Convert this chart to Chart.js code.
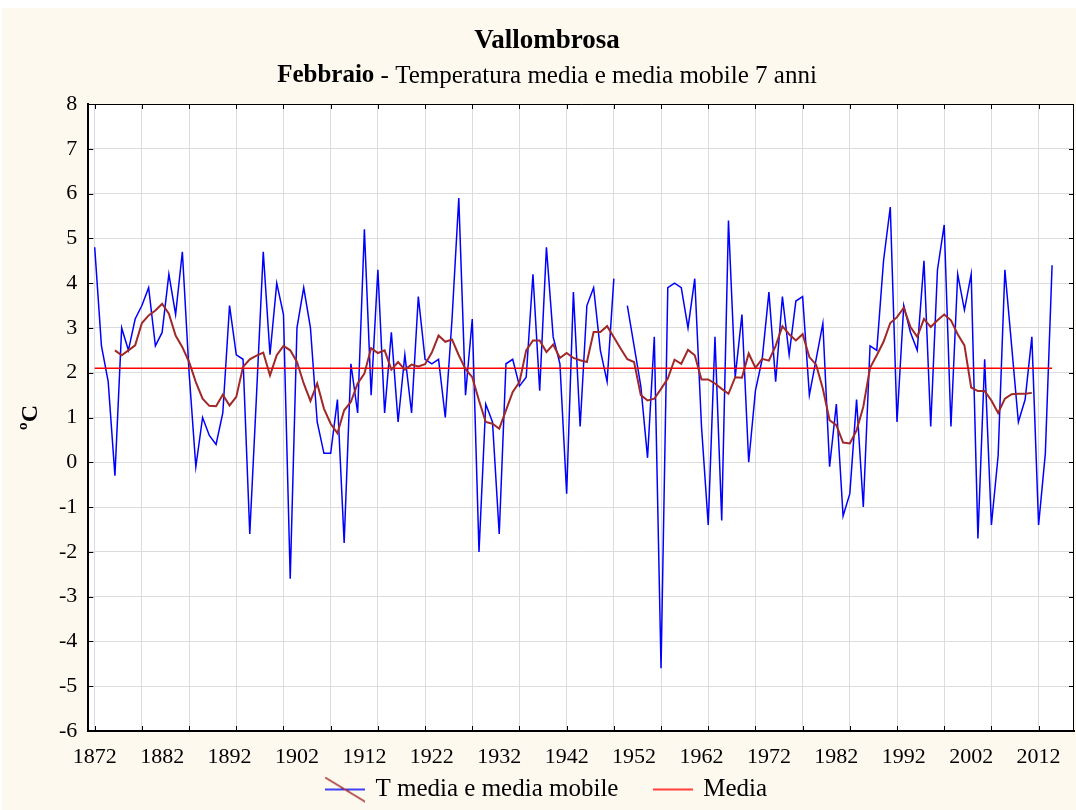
<!DOCTYPE html>
<html><head><meta charset="utf-8">
<script src="https://cdn.jsdelivr.net/npm/chart.js@4.4.1/dist/chart.umd.min.js"></script>
<style>html,body{margin:0;padding:0;background:#fff;}canvas{display:block;}</style>
</head><body>
<canvas id="c" width="1076" height="810"></canvas>
<script>
// ---------- DATA ----------
const years = [
 1872,1873,1874,1875,1876,1877,1878,1879,1880,1881,
 1882,1883,1884,1885,1886,1887,1888,1889,1890,1891,
 1892,1893,1894,1895,1896,1897,1898,1899,1900,1901,
 1902,1903,1904,1905,1906,1907,1908,1909,1910,1911,
 1912,1913,1914,1915,1916,1917,1918,1919,1920,1921,
 1922,1923,1924,1925,1926,1927,1928,1929,1930,1931,
 1932,1933,1934,1935,1936,1937,1938,1939,1940,1941,
 1942,1943,1944,1945,1946,1947,1948,1949,1950,1951,
 1952,1953,1954,1955,1956,1957,1958,1959,1960,1961,
 1962,1963,1964,1965,1966,1967,1968,1969,1970,1971,
 1972,1973,1974,1975,1976,1977,1978,1979,1980,1981,
 1982,1983,1984,1985,1986,1987,1988,1989,1990,1991,
 1992,1993,1994,1995,1996,1997,1998,1999,2000,2001,
 2002,2003,2004,2005,2006,2007,2008,2009,2010,2011,
 2012,2013,2014
];
const temperature = [
 4.8, 2.6, 1.8, -0.3, 3.0, 2.5, 3.2, 3.5, 3.9, 2.6,
 2.9, 4.2, 3.3, 4.7, 2.0, -0.1, 1.0, 0.6, 0.4, 1.1,
 3.5, 2.4, 2.3, -1.6, 1.5, 4.7, 2.4, 4.0, 3.3, -2.6,
 3.0, 3.9, 3.0, 0.9, 0.2, 0.2, 1.4, -1.8, 2.2, 1.1,
 5.2, 1.5, 4.3, 1.1, 2.9, 0.9, 2.4, 1.1, 3.7, 2.3,
 2.2, 2.3, 1.0, 3.2, 5.9, 1.5, 3.2, -2.0, 1.3, 0.9,
 -1.6, 2.2, 2.3, 1.7, 1.9, 4.2, 1.6, 4.8, 2.8, 2.2,
 -0.7, 3.8, 0.8, 3.5, 3.9, 2.5, 1.8, 4.1, null, 3.5,
 2.6, 1.7, 0.1, 2.8, -4.6, 3.9, 4.0, 3.9, 3.0, 4.1,
 0.8, -1.4, 2.8, -1.3, 5.4, 1.9, 3.3, 0.0, 1.6, 2.3,
 3.8, 1.8, 3.7, 2.4, 3.6, 3.7, 1.5, 2.3, 3.1, -0.1,
 1.3, -1.2, -0.7, 1.4, -1.0, 2.6, 2.5, 4.5, 5.7, 0.9,
 3.5, 2.9, 2.5, 4.5, 0.8, 4.3, 5.3, 0.8, 4.2, 3.4,
 4.2, -1.7, 2.3, -1.4, 0.15, 4.3, 2.6, 0.9, 1.4, 2.8,
 -1.4, 0.2, 4.4
];
const movingAverage7 = [
 null, null, null, 2.50, 2.39, 2.50, 2.61, 3.11, 3.28, 3.39,
 3.54, 3.32, 2.83, 2.57, 2.24, 1.79, 1.42, 1.26, 1.25, 1.51,
 1.27, 1.46, 2.13, 2.30, 2.38, 2.45, 1.94, 2.39, 2.60, 2.50,
 2.24, 1.76, 1.37, 1.76, 1.20, 0.86, 0.65, 1.16, 1.35, 1.76,
 1.98, 2.55, 2.44, 2.50, 2.07, 2.24, 2.07, 2.18, 2.14, 2.19,
 2.45, 2.83, 2.69, 2.74, 2.39, 2.08, 1.90, 1.38, 0.90, 0.86,
 0.75, 1.16, 1.57, 1.79, 2.50, 2.72, 2.72, 2.46, 2.63, 2.33,
 2.44, 2.33, 2.28, 2.24, 2.91, 2.91, 3.04, 2.79, 2.54, 2.30,
 2.24, 1.50, 1.38, 1.42, 1.64, 1.87, 2.29, 2.20, 2.51, 2.39,
 1.85, 1.85, 1.76, 1.64, 1.53, 1.90, 1.89, 2.43, 2.11, 2.31,
 2.27, 2.60, 3.04, 2.86, 2.72, 2.86, 2.35, 2.18, 1.64, 0.94,
 0.83, 0.44, 0.42, 0.71, 1.24, 2.11, 2.39, 2.69, 3.11, 3.24,
 3.45, 3.02, 2.80, 3.20, 3.02, 3.17, 3.30, 3.17, 2.86, 2.61,
 1.67, 1.59, 1.59, 1.38, 1.10, 1.42, 1.52, 1.53, 1.53, 1.55,
 null, null, null
];
const meanValue = 2.1;
const meanSpan = [1872, 2014];
const gridYears = [1872,1879,1886,1893,1900,1907,1914,1921,1928,1935,1942,1949,1956,1963,1970,1977,1984,1991,1998,2005,2012];
const labelYears = [1872,1882,1892,1902,1912,1922,1932,1942,1952,1962,1972,1982,1992,2002,2012];
const yMin = -6, yMax = 8;

const titleText = 'Vallombrosa';
const subtitleBold = 'Febbraio';
const subtitleRest = ' - Temperatura media e media mobile 7 anni';
const seriesNames = ['T media e media mobile', 'Media'];
const yTitle = 'ºC';

// ---------- STYLE ----------
const SERIF = "'Liberation Serif','Times New Roman',serif";
const BLUE = '#0000FF', BROWN = '#A02828', RED = '#FF0000';
const CREAM = '#FDF9EE', GRID = '#DCDCDC';

function legendSymbol(kind) {
  const c = document.createElement('canvas');
  c.width = 40; c.height = 26;
  const g = c.getContext('2d');
  g.lineWidth = 1.5;
  if (kind === 'combo') {
    g.strokeStyle = BLUE;
    g.beginPath(); g.moveTo(0, 13); g.lineTo(40, 13); g.stroke();
    g.strokeStyle = BROWN;
    g.beginPath(); g.moveTo(0, 1); g.lineTo(40, 25); g.stroke();
  } else {
    g.strokeStyle = RED;
    g.beginPath(); g.moveTo(0, 13); g.lineTo(40, 13); g.stroke();
  }
  return c;
}
const symCombo = legendSymbol('combo');
const symMean = legendSymbol('mean');

const bgPlugin = {
  id: 'bg',
  beforeDraw(chart) {
    const {ctx, width, height, chartArea: a} = chart;
    ctx.save();
    ctx.fillStyle = '#FFFFFF'; ctx.fillRect(0, 0, width, height);
    ctx.fillStyle = CREAM; ctx.fillRect(2, 8, width - 2, height - 8);
    ctx.fillStyle = '#FFFFFF'; ctx.fillRect(a.left, a.top, a.right - a.left, a.bottom - a.top);
    ctx.restore();
  }
};

const framePlugin = {
  id: 'frame',
  afterDraw(chart) {
    const {ctx, chartArea: a, scales} = chart;
    ctx.save();
    ctx.strokeStyle = '#000'; ctx.lineWidth = 1;
    ctx.beginPath();
    ctx.moveTo(a.left, a.top + 0.5); ctx.lineTo(a.right, a.top + 0.5);
    ctx.moveTo(a.right - 0.5, a.top); ctx.lineTo(a.right - 0.5, a.bottom);
    for (let v = yMin; v <= yMax; v++) {
      const y = Math.round(scales.y.getPixelForValue(v)) + 0.5;
      ctx.moveTo(a.left, y); ctx.lineTo(a.left + 5, y);
      ctx.moveTo(a.right, y); ctx.lineTo(a.right - 5, y);
    }
    gridYears.forEach(yr => {
      const x = Math.round(scales.x.getPixelForValue(yr)) + 0.5;
      ctx.moveTo(x, a.bottom); ctx.lineTo(x, a.bottom - 5);
      ctx.moveTo(x, a.top); ctx.lineTo(x, a.top + 5);
    });
    ctx.stroke();
    const tb = chart.titleBlock;
    const cx = (tb.left + tb.right) / 2;
    const cy = tb.bottom + 3.6 + 15;
    ctx.fillStyle = '#000';
    ctx.textBaseline = 'middle';
    ctx.textAlign = 'left';
    const fb = 'bold 25px ' + SERIF, fr = '25px ' + SERIF;
    ctx.font = fb; const w1 = ctx.measureText(subtitleBold).width;
    ctx.font = fr; const w2 = ctx.measureText(subtitleRest).width;
    const x0 = cx - (w1 + w2) / 2;
    ctx.font = fb; ctx.fillText(subtitleBold, x0, cy);
    ctx.font = fr; ctx.fillText(subtitleRest, x0 + w1, cy);
    ctx.restore();
  }
};

const toXY = (arr) => years.map((yr, i) => ({x: yr, y: arr[i]}));

new Chart(document.getElementById('c'), {
  type: 'line',
  data: {
    datasets: [
      { label: seriesNames[0], data: toXY(temperature), borderColor: BLUE, borderWidth: 1.5,
        pointRadius: 0, tension: 0, spanGaps: false, order: 3 },
      { label: seriesNames[0] + ' (7)', data: toXY(movingAverage7), borderColor: BROWN, borderWidth: 2,
        pointRadius: 0, tension: 0, spanGaps: true, order: 1 },
      { label: seriesNames[1], data: meanSpan.map(yr => ({x: yr, y: meanValue})), borderColor: RED,
        borderWidth: 1.5, pointRadius: 0, order: 2 }
    ]
  },
  options: {
    responsive: false,
    animation: false,
    devicePixelRatio: 1,
    layout: { padding: { left: 20, right: 2, top: 0, bottom: -2 } },
    plugins: {
      tooltip: { enabled: false },
      title: { display: true, text: titleText, color: '#000',
        font: { family: SERIF, size: 27, weight: 'bold' }, padding: { top: 25, bottom: 0 } },
      subtitle: { display: true, text: subtitleBold + subtitleRest, color: 'rgba(0,0,0,0)',
        font: { family: SERIF, size: 25 }, padding: { top: 3.6, bottom: 13 } },
      legend: {
        position: 'bottom',
        labels: {
          color: '#000', font: { family: SERIF, size: 25 }, usePointStyle: true,
          pointStyleWidth: 36, padding: 5,
          generateLabels() {
            return [
              { text: seriesNames[0] + '     ', pointStyle: symCombo, fillStyle: BLUE, strokeStyle: BLUE, lineWidth: 0, hidden: false, datasetIndex: 0 },
              { text: seriesNames[1], pointStyle: symMean, fillStyle: RED, strokeStyle: RED, lineWidth: 0, hidden: false, datasetIndex: 2 }
            ];
          }
        }
      }
    },
    scales: {
      x: {
        type: 'linear', min: 1871.05, max: 2017.25,
        afterBuildTicks(scale) {
          const vals = Array.from(new Set(gridYears.concat(labelYears))).sort((a, b) => a - b);
          scale.ticks = vals.map(v => ({value: v}));
        },
        afterFit(scale) { scale.height = 41; },
        ticks: {
          autoSkip: false, maxRotation: 0, minRotation: 0, padding: 12.6, color: '#000',
          font: { family: SERIF, size: 22 },
          callback: (v) => labelYears.includes(v) ? String(v) : ''
        },
        grid: {
          drawTicks: false,
          color: (ctx) => (ctx.tick && gridYears.includes(ctx.tick.value)) ? GRID : 'rgba(0,0,0,0)',
          lineWidth: 1
        },
        border: { display: true, color: '#000', width: 2 }
      },
      y: {
        min: yMin, max: yMax,
        afterFit(scale) { scale.width = 68.3; },
        ticks: { stepSize: 1, padding: 11, color: '#000', font: { family: SERIF, size: 22 } },
        grid: { drawTicks: false, color: GRID, lineWidth: 1 },
        border: { display: true, color: '#000', width: 2 },
        title: { display: true, text: yTitle, color: '#000', padding: { top: -4, bottom: 0 },
          font: { family: SERIF, size: 24, weight: 'bold' } }
      }
    }
  },
  plugins: [bgPlugin, framePlugin]
});
</script>
</body></html>
